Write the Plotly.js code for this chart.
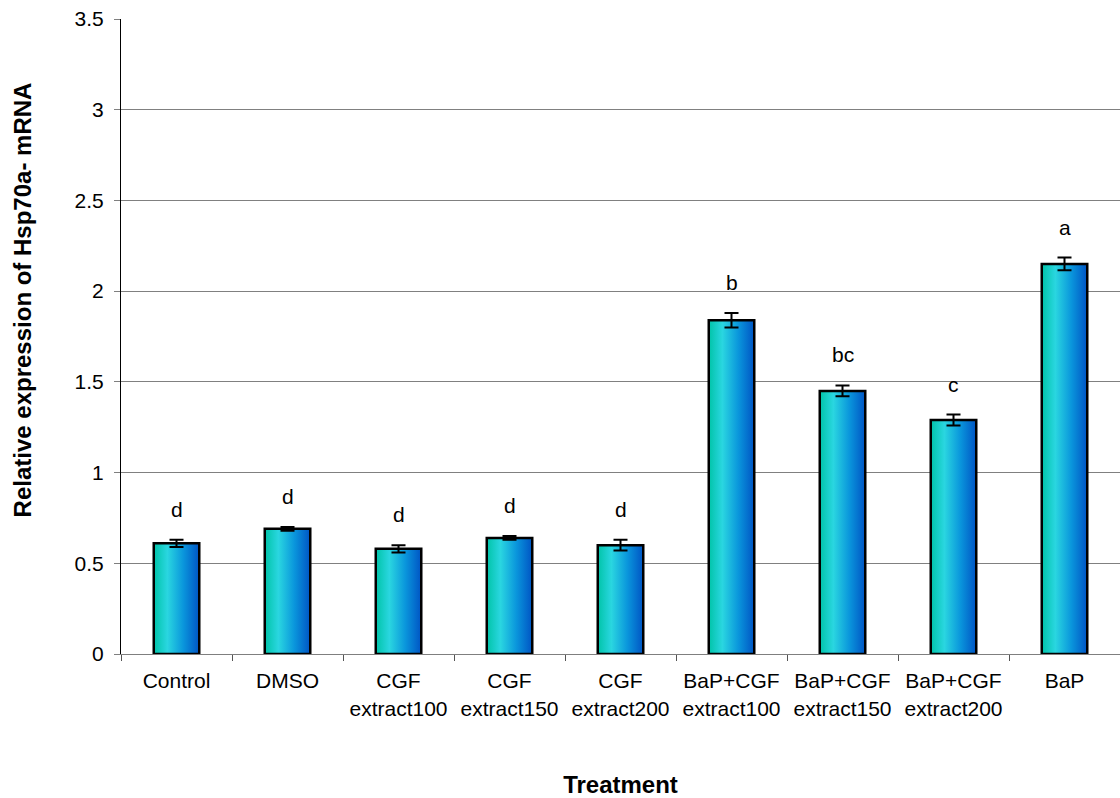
<!DOCTYPE html>
<html>
<head>
<meta charset="utf-8">
<script src="https://cdn.plot.ly/plotly-3.0.1.min.js"></script>
<style>
  html, body { margin: 0; padding: 0; background: #fff; }
  #chart { width: 1120px; height: 798px; }
</style>
</head>
<body>
<div id="chart"></div>
<script>
// Treatment groups (two-line tick labels)
const categories = [
  'Control', 'DMSO', 'CGF<br>extract100', 'CGF<br>extract150', 'CGF<br>extract200',
  'BaP+CGF<br>extract100', 'BaP+CGF<br>extract150', 'BaP+CGF<br>extract200', 'BaP'
];
// Mean relative Hsp70a mRNA expression
const expression = [0.61, 0.69, 0.58, 0.64, 0.60, 1.84, 1.45, 1.29, 2.15];
// Standard error of each mean
const stdErr = [0.02, 0.01, 0.02, 0.01, 0.03, 0.04, 0.03, 0.03, 0.035];
// Significance groups
const groupLetters = ['d', 'd', 'd', 'd', 'd', 'b', 'bc', 'c', 'a'];
const yTicks = [0, 0.5, 1, 1.5, 2, 2.5, 3, 3.5];

const FONT = 'Liberation Sans, Arial, Helvetica, sans-serif';

const bars = {
  type: 'bar',
  x: categories,
  y: expression,
  width: 0.41,
  marker: { color: '#12a8d8', line: { color: '#000', width: 2.5 } },
  error_y: { type: 'data', array: stdErr, visible: true, color: '#000', thickness: 2, width: 7 },
  hoverinfo: 'x+y'
};

const letters = categories.map((c, i) => ({
  x: c,
  y: expression[i] + stdErr[i],
  xref: 'x', yref: 'y',
  text: groupLetters[i],
  showarrow: false,
  yanchor: 'bottom',
  yshift: 17,
  font: { family: FONT, size: 21, color: '#000' }
}));

// Vertical axis title, placed a little above the plot's middle
const yTitle = {
  xref: 'paper', yref: 'paper',
  x: -0.099, y: 0.557,
  xanchor: 'center', yanchor: 'middle',
  textangle: -90,
  showarrow: false,
  text: '<b>Relative expression of Hsp70a- mRNA</b>',
  font: { family: FONT, size: 24, color: '#000' }
};

const layout = {
  width: 1120,
  height: 798,
  margin: { l: 121, r: 0, t: 19, b: 144 },
  paper_bgcolor: '#fff',
  plot_bgcolor: '#fff',
  showlegend: false,
  font: { family: FONT, size: 21, color: '#000' },
  xaxis: {
    type: 'category',
    tickson: 'boundaries',
    ticks: 'outside',
    ticklen: 6,
    tickcolor: '#555',
    showline: true,
    linecolor: '#7f7f7f',
    linewidth: 1,
    showgrid: false,
    ticklabelstandoff: 8,
    tickfont: { family: FONT, size: 21, color: '#000' },
    title: { text: '<b>Treatment</b>', font: { family: FONT, size: 24, color: '#000' }, standoff: 58 }
  },
  yaxis: {
    range: [0, 3.5],
    tickvals: yTicks,
    ticktext: yTicks.map(String),
    ticks: 'outside',
    ticklen: 6,
    tickcolor: '#7f7f7f',
    showline: true,
    linecolor: '#000',
    linewidth: 1,
    showgrid: true,
    gridcolor: '#808080',
    gridwidth: 1,
    zeroline: false,
    ticklabelstandoff: 6,
    tickfont: { family: FONT, size: 21, color: '#000' }
  },
  annotations: letters.concat([yTitle])
};

// Horizontal teal-to-blue shading applied to every bar
function shadeBars(gd) {
  const svg = gd.querySelector('.main-svg');
  const ns = 'http://www.w3.org/2000/svg';
  let defs = svg.querySelector('defs');
  if (!defs) { defs = document.createElementNS(ns, 'defs'); svg.insertBefore(defs, svg.firstChild); }
  const grad = document.createElementNS(ns, 'linearGradient');
  grad.setAttribute('id', 'barShade');
  grad.setAttribute('x1', '0'); grad.setAttribute('y1', '0');
  grad.setAttribute('x2', '1'); grad.setAttribute('y2', '0');
  [['0', '#00c4a8'], ['0.3', '#2ad6e0'], ['0.65', '#0a96dc'], ['1', '#0054c4']].forEach(([o, c]) => {
    const s = document.createElementNS(ns, 'stop');
    s.setAttribute('offset', o);
    s.setAttribute('stop-color', c);
    grad.appendChild(s);
  });
  defs.appendChild(grad);
  gd.querySelectorAll('.barlayer .point path').forEach(p => {
    p.style.fill = 'url(#barShade)';
    p.style.fillOpacity = 1;
  });
}

const gd = document.getElementById('chart');
Plotly.newPlot(gd, [bars], layout, { displayModeBar: false, staticPlot: true }).then(shadeBars);
</script>
</body>
</html>
